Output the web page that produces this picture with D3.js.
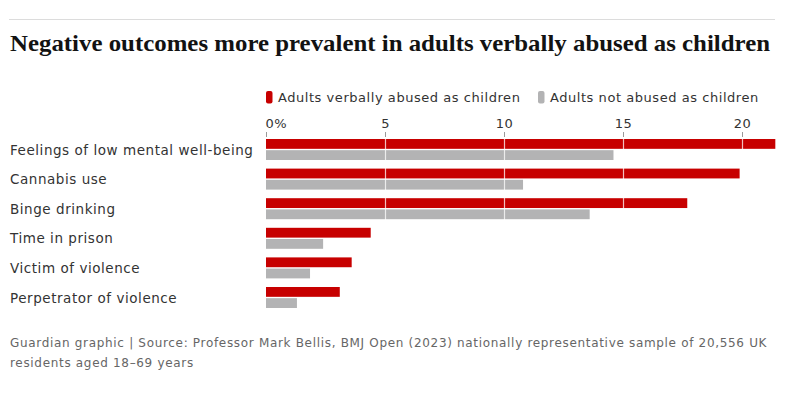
<!DOCTYPE html>
<html><head><meta charset="utf-8">
<script src="https://cdn.jsdelivr.net/npm/d3@7"></script>
<style>body{margin:0;background:#fff}svg{display:block}</style>
</head><body>
<script>
const categories = ["Feelings of low mental well-being","Cannabis use","Binge drinking","Time in prison","Victim of violence","Perpetrator of violence"];
const seriesNames = ["Adults verbally abused as children","Adults not abused as children"];
const abused = [21.4, 19.9, 17.7, 4.4, 3.6, 3.1];
const notAbused = [14.6, 10.8, 13.6, 2.4, 1.85, 1.3];
const tickValues = [0,5,10,15,20];
const tickLabels = ["0%","5","10","15","20"];
const colors = ["#c70000","#b3b3b4"];

const W=800,H=403;
const svg=d3.select("body").append("svg").attr("width",W).attr("height",H);
const sans="'DejaVu Sans', sans-serif";

svg.append("line").attr("x1",9).attr("x2",775).attr("y1",19.5).attr("y2",19.5).attr("stroke","#dcdcdc").attr("stroke-width",1);

svg.append("text").attr("x",10).attr("y",51)
  .attr("font-family","'Liberation Serif', serif").attr("font-weight","bold").attr("font-size",23)
  .attr("fill","#121212").attr("textLength",760).attr("lengthAdjust","spacingAndGlyphs")
  .text("Negative outcomes more prevalent in adults verbally abused as children");

const x=d3.scaleLinear().domain([0,20]).range([266,742]);
const y=d3.scaleBand().domain(categories).range([136,136+29.6*6]);
const y1=d3.scaleBand().domain(seriesNames).range([3,24]).paddingInner(0.12);

// legend
const legX=[266,538];
seriesNames.forEach((s,i)=>{
  svg.append("rect").attr("x",legX[i]).attr("y",91).attr("width",6.5).attr("height",12.5).attr("rx",2).attr("fill",colors[i]);
  svg.append("text").attr("x",legX[i]+12).attr("y",102).attr("font-family",sans).attr("font-size",13)
    .attr("letter-spacing",0.55).attr("fill","#333").text(s);
});

// axis
const axis=d3.axisTop(x).tickValues(tickValues).tickFormat((d,i)=>tickLabels[i]).tickSize(5).tickPadding(4);
const ag=svg.append("g").attr("transform","translate(0,137)").call(axis);
ag.select(".domain").remove();
ag.selectAll(".tick line").attr("stroke","#999");
ag.selectAll(".tick text").attr("font-family",sans).attr("font-size",13).attr("fill","#333").attr("letter-spacing",0.4);
ag.selectAll(".tick text").filter(d=>d===0).attr("text-anchor","start").attr("x",-1);

// labels
svg.append("g").selectAll("text").data(categories).join("text")
  .attr("x",10).attr("y",d=>y(d)+y.bandwidth()/2-1).attr("dy","0.35em")
  .attr("font-family",sans).attr("font-size",13.5).attr("letter-spacing",0.55).attr("fill","#333").text(d=>d);

// bars
const data=categories.map((c,i)=>({c,vals:[abused[i],notAbused[i]]}));
const rows=svg.append("g").selectAll("g").data(data).join("g").attr("transform",d=>`translate(0,${y(d.c)})`);
rows.selectAll("rect").data(d=>d.vals.map((v,i)=>({v,s:seriesNames[i],i}))).join("rect")
  .attr("x",x(0)).attr("y",d=>y1(d.s)).attr("width",d=>x(d.v)-x(0)).attr("height",y1.bandwidth())
  .attr("fill",d=>colors[d.i]);

// white gridlines over bars
svg.append("g").selectAll("line").data(tickValues.slice(1)).join("line")
  .attr("x1",d=>x(d)+0.5).attr("x2",d=>x(d)+0.5).attr("y1",137).attr("y2",136+29.6*6)
  .attr("stroke","#fff").attr("stroke-opacity",0.75).attr("stroke-width",1.2);

// footer
const foot=["Guardian graphic | Source: Professor Mark Bellis, BMJ Open (2023) nationally representative sample of 20,556 UK","residents aged 18–69 years"];
svg.append("g").selectAll("text").data(foot).join("text")
  .attr("x",10).attr("y",(d,i)=>347+i*20).attr("font-family",sans).attr("font-size",12).attr("letter-spacing",0.68)
  .attr("fill","#666").text(d=>d);
</script>
</body></html>
